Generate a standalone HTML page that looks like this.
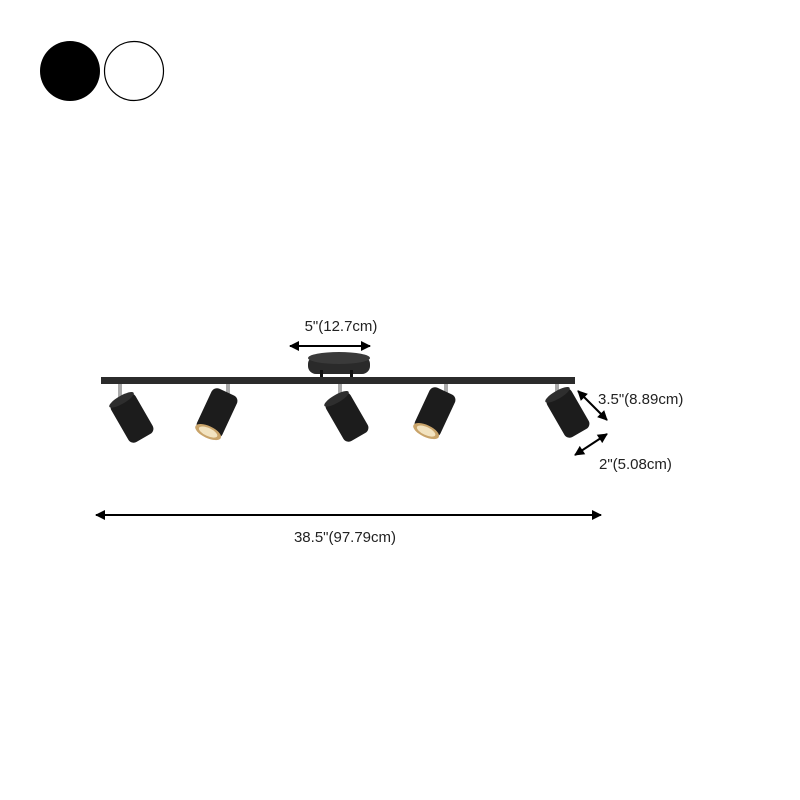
<!DOCTYPE html>
<html><head><style>body{margin:0;background:#fff}svg{display:block}</style></head><body>
<svg width="800" height="800" viewBox="0 0 800 800" xmlns="http://www.w3.org/2000/svg">
<defs>
<marker id="a" viewBox="0 0 10 10" refX="9" refY="5" markerWidth="5" markerHeight="5" orient="auto-start-reverse"><path d="M0,0L10,5L0,10z" fill="#000"/></marker>
<g id="cyl"><rect x="-14" y="-23" width="28" height="46" rx="6" fill="#1c1c1c"/><ellipse cx="0" cy="-21" rx="14" ry="4" fill="#2e2e2e"/></g>
<g id="cylL"><rect x="-14" y="-23" width="28" height="46" rx="6" fill="#1c1c1c"/><ellipse cx="0" cy="21" rx="14" ry="6" fill="#c9a46a"/><ellipse cx="0" cy="21" rx="10" ry="4" fill="#f2e3c0"/></g>
</defs>
<circle cx="70" cy="71" r="30" fill="#000"/>
<circle cx="134" cy="71" r="29.5" fill="#fff" stroke="#000" stroke-width="1.2"/>
<g fill="#aaa"><rect x="118" y="383" width="4" height="16"/><rect x="226" y="383" width="4" height="12"/><rect x="338" y="383" width="4" height="16"/><rect x="444" y="383" width="4" height="12"/><rect x="555" y="383" width="4" height="16"/></g>
<rect x="308" y="356" width="62" height="18" rx="8" fill="#2a2a2a"/>
<ellipse cx="339" cy="358" rx="31" ry="6" fill="#3a3a3a"/>
<rect x="320" y="370" width="3" height="8" fill="#111"/><rect x="350" y="370" width="3" height="8" fill="#111"/>
<rect x="101" y="377" width="474" height="7" fill="#2b2b2b"/>
<use href="#cyl" transform="translate(132,418) rotate(-30)"/>
<use href="#cylL" transform="translate(217,413) rotate(25)"/>
<use href="#cyl" transform="translate(347,417) rotate(-30)"/>
<use href="#cylL" transform="translate(435,412) rotate(25)"/>
<use href="#cyl" transform="translate(568,413) rotate(-30)"/>
<g stroke="#000" stroke-width="2" marker-start="url(#a)" marker-end="url(#a)">
<line x1="290" y1="346" x2="370" y2="346"/>
<line x1="578" y1="391" x2="607" y2="420"/>
<line x1="575" y1="455" x2="607" y2="434"/>
<line x1="96" y1="515" x2="601" y2="515"/>
</g>
<g font-family="Liberation Sans, sans-serif" font-size="15" fill="#222">
<text x="341" y="331" text-anchor="middle">5"(12.7cm)</text>
<text x="598" y="404">3.5"(8.89cm)</text>
<text x="599" y="469">2"(5.08cm)</text>
<text x="345" y="542" text-anchor="middle">38.5"(97.79cm)</text>
</g>
</svg>
</body></html>
